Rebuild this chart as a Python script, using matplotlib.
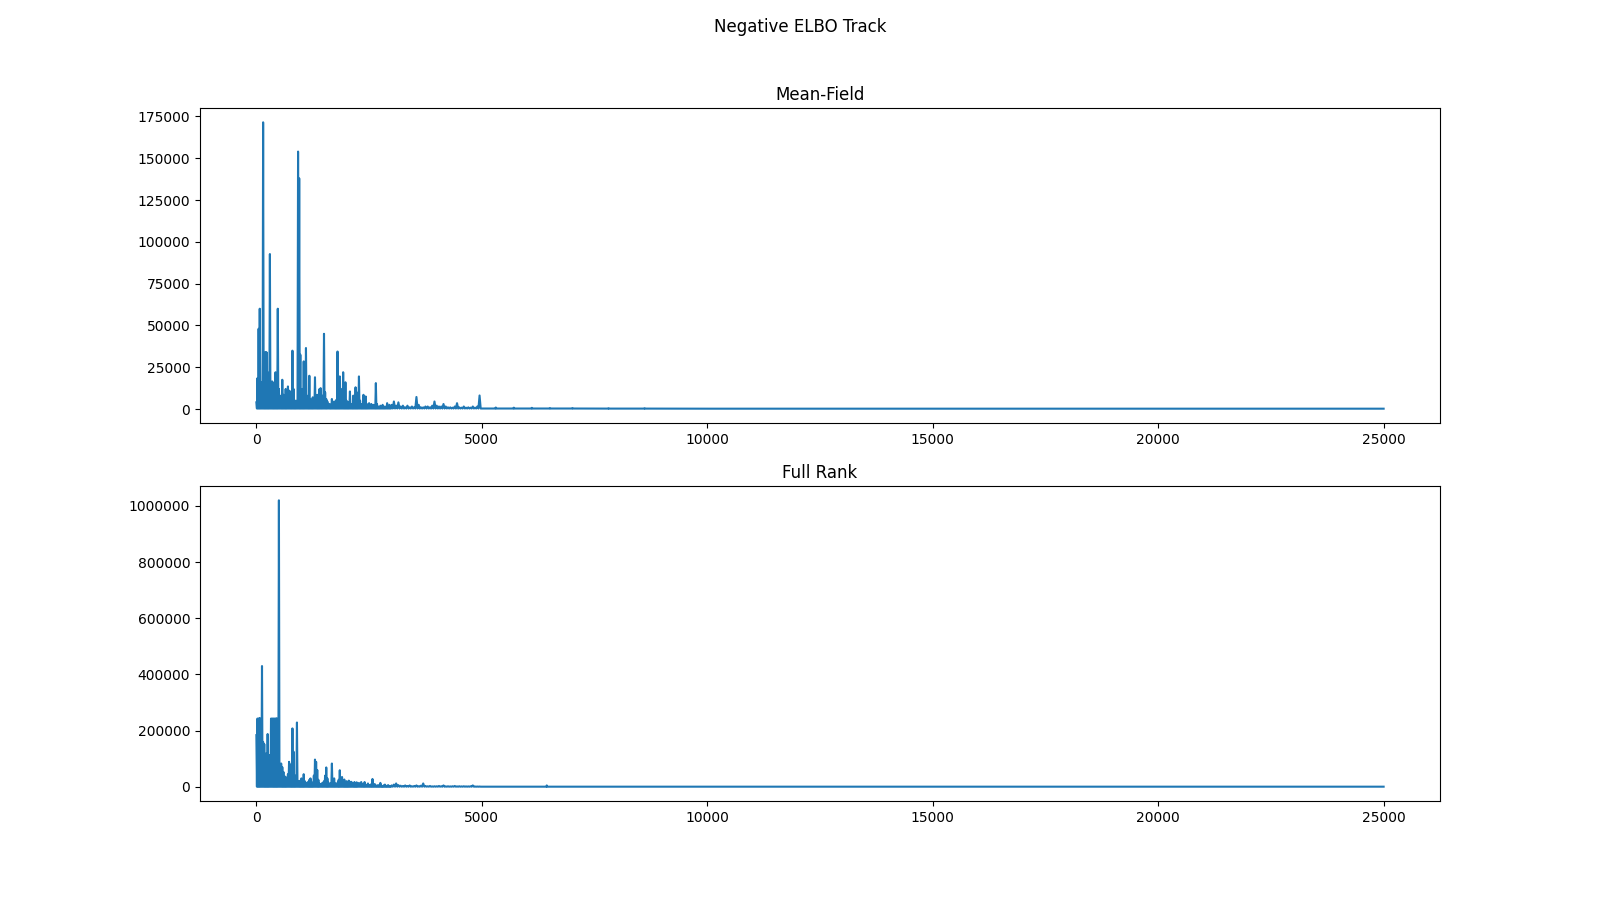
import numpy as np
import matplotlib
matplotlib.use("Agg")
import matplotlib.pyplot as plt

# Negative ELBO values in thousands.
# Dense early part: one peak every 25 iterations (0..2975)
mf_early = [4, 18.5, 48, 60, 16, 15, 171.5, 16, 34, 34, 22, 14, 92.7, 16, 16.5, 14,
            16, 22, 15, 60, 12, 4.5, 8, 17.5, 8.5, 7, 12, 10, 13.5, 11, 10.5, 9,
            34.9, 12, 4.5, 5, 4, 154, 138, 32.5, 10, 12, 28.5, 14, 36.5, 5, 8, 19.9,
            6, 4.5, 7, 5, 19, 6, 8.5, 6, 12, 12.5, 7, 8, 45, 10, 6, 4.5,
            1.5, 3, 2, 6, 3, 4.5, 2, 5.5, 34.4, 8, 19.5, 12, 8, 22, 10, 16,
            5, 3, 4, 10.5, 3, 2, 8, 4, 13, 10, 8, 19.5, 5, 3, 2, 8.5,
            5, 7.5, 3, 2, 3.5, 1.5, 3, 1.5, 2.5, 2, 15.5, 3, 1.5, 1, 2, 1.5,
            2.5, 1, 1.5, 1, 3.5, 1.5, 2.5, 1]
# Middle part: one peak every 50 iterations (3000..4950)
mf_mid = [2.5, 4.5, 2, 4, 1.5, 2, 1, 2, 1, 1.5, 1, 7.2, 2.5, 1, 1, 1.5,
          1.5, 1, 2, 4.5, 2, 1.5, 1.5, 3, 1.5, 1, 1, 0.8, 1.5, 3.5, 1, 0.8,
          1.5, 0.8, 1, 0.8, 1.5, 0.8, 1.5, 8.1]
# Flat tail with a few narrow blips
mf_tail_x = [5000, 5300, 5310, 5320, 5700, 5710, 5720, 6100, 6110, 6120, 6500, 6510, 6520,
             7000, 7010, 7020, 7800, 7810, 7820, 8600, 8610, 8620, 10000, 25000]
mf_tail_y = [0.3, 0.3, 0.9, 0.3, 0.3, 0.8, 0.3, 0.3, 0.7, 0.3, 0.3, 0.6, 0.3,
             0.3, 0.6, 0.3, 0.25, 0.5, 0.25, 0.25, 0.5, 0.25, 0.2, 0.2]
mf_floor = 0.3

fr_early = [184, 243, 243, 245, 200, 430, 160, 152, 91, 120, 188, 113, 113, 243, 243, 243,
            243, 243, 244, 60, 1020, 77, 83, 70, 53, 38, 35, 30, 45, 89, 80, 60,
            208, 125, 30, 40, 229, 20, 18, 22, 30, 25, 45, 20, 15, 12, 18, 25,
            30, 12, 15, 40, 97, 89, 60, 25, 12, 10, 12, 15, 20, 40, 69, 30,
            15, 10, 12, 83, 25, 30, 12, 10, 15, 25, 59, 30, 35, 20, 26, 15,
            20, 12, 22, 12, 18, 15, 10, 17, 12, 16, 10, 14, 10, 17, 8, 10,
            17, 8, 6, 12, 6, 5, 10, 28, 6, 10, 5, 4, 6, 4, 14, 4,
            3, 5, 8, 3, 4, 6, 2, 3]
fr_mid = [5, 8, 12, 6, 4, 3, 5, 3, 5, 2, 3, 5, 2, 4, 12, 3,
          2, 3, 1.5, 2, 2, 3, 2, 5, 1.5, 2, 1.5, 2, 3, 1.5, 2, 1.5,
          2, 1.5, 1.5, 2, 5, 1, 1, 1]
fr_tail_x = [5000, 6430, 6440, 6450, 25000]
fr_tail_y = [0.5, 0.5, 5, 0.5, 0.5]
fr_floor = 0.5


def build_track(early, mid, tail_x, tail_y, floor):
    xs, ys = [], []
    for i, v in enumerate(early):
        xs += [i * 25, i * 25 + 12.5]
        ys += [v, floor]
    for i, v in enumerate(mid):
        xs += [3000 + i * 50, 3000 + i * 50 + 25]
        ys += [v, floor]
    xs += list(tail_x)
    ys += list(tail_y)
    return np.array(xs), np.array(ys) * 1000


fig, axes = plt.subplots(2, 1, figsize=(16, 9), dpi=100)
fig.suptitle("Negative ELBO Track")

x, y = build_track(mf_early, mf_mid, mf_tail_x, mf_tail_y, mf_floor)
axes[0].plot(x, y, color="tab:blue", lw=1.5)
axes[0].set_title("Mean-Field")

x, y = build_track(fr_early, fr_mid, fr_tail_x, fr_tail_y, fr_floor)
axes[1].plot(x, y, color="tab:blue", lw=1.5)
axes[1].set_title("Full Rank")

for ax in axes:
    ax.ticklabel_format(style="plain", useOffset=False)

fig.savefig("out.png", dpi=100)
